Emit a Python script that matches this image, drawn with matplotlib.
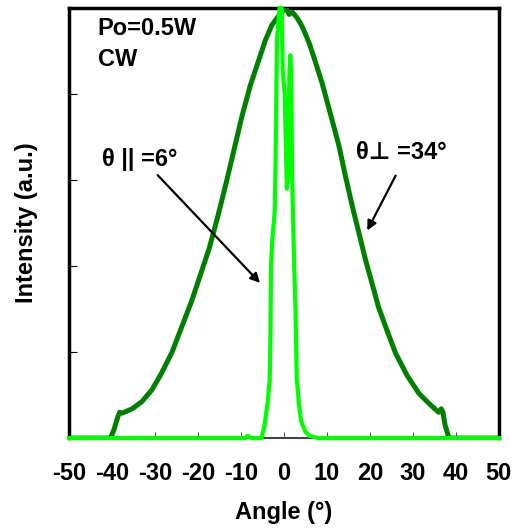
import matplotlib.pyplot as plt

# === DATA ===
perp_angle = [-50, -40.3, -39.5, -38.6, -38.2, -37.6, -35.3, -33.0, -30.7, -28.5, -26.0,
              -23.7, -21.4, -19.4, -17.4, -15.5, -13.5, -11.6, -9.7, -7.8, -5.8,
              -4.3, -2.8, -1.5, -0.5, 0.5, 1.2, 2.0, 3.0, 4.0, 5.0, 6.0, 7.0, 8.9, 10.8,
              12.8, 14.3, 15.9, 17.5, 19.0, 20.5, 22.0, 24.0, 26.0, 28.7, 31.4,
              33.8, 36.0, 36.6, 37.0, 37.5, 38.4, 50]
perp_int = [0.0, 0.0, 0.02, 0.05, 0.06, 0.058, 0.068, 0.085, 0.112, 0.15, 0.2,
            0.26, 0.32, 0.38, 0.44, 0.51, 0.59, 0.67, 0.75, 0.82, 0.88,
            0.925, 0.96, 0.978, 0.99, 1.0, 0.985, 0.99, 0.978, 0.962, 0.94, 0.915, 0.885, 0.825, 0.755,
            0.68, 0.61, 0.54, 0.475, 0.414, 0.36, 0.305, 0.25, 0.197, 0.145, 0.104,
            0.08, 0.06, 0.068, 0.06, 0.03, 0.0, 0.0]

par_angle = [-50, -9.0, -8.5, -7.5, -5.2, -4.5, -3.8, -3.3, -3.1, -3.0, -2.7, -2.1,
             -1.9, -1.6, -1.0, -0.5, -0.3, 0.2, 0.7, 0.9, 1.3, 1.5, 1.7, 1.9,
             2.4, 2.7, 3.0, 3.5, 4.0, 5.0, 6.0, 8.0, 50]
par_int = [0.0, 0.0, 0.005, 0.0, 0.0, 0.03, 0.08, 0.135, 0.25, 0.40, 0.46, 0.53,
           0.67, 0.926, 1.0, 1.0, 0.86, 0.80, 0.58, 0.60, 0.85, 0.89, 0.85, 0.62,
           0.40, 0.30, 0.14, 0.08, 0.04, 0.015, 0.005, 0.0, 0.0]

xticks = [-50, -40, -30, -20, -10, 0, 10, 20, 30, 40, 50]

# === STYLE ===
plt.rcParams['font.family'] = ['Liberation Sans', 'DejaVu Sans']
plt.rcParams['font.weight'] = 'bold'
FS = 17

fig = plt.figure(figsize=(5.18, 5.31), dpi=100)
ax = fig.add_axes([0.133, 0.175, 0.830, 0.810])

ax.plot(perp_angle, perp_int, color='#008000', lw=3.6, zorder=3)
ax.plot(par_angle, par_int, color='#00ff00', lw=3.0, zorder=4, clip_on=False)

ax.set_xlim(-50, 50)
ax.set_ylim(0, 1)
ax.set_xticks(xticks)
ax.set_xticklabels([str(t) for t in xticks], fontsize=FS, fontweight='bold')
ax.set_yticks([0.2, 0.4, 0.6, 0.8])
ax.set_yticklabels([])
ax.tick_params(axis='x', direction='in', length=4, width=0.8, color='#555555', pad=17)
ax.tick_params(axis='y', direction='in', length=6, width=0.8, color='black')

for side in ['left', 'right', 'top']:
    ax.spines[side].set_linewidth(2.5)
ax.spines['bottom'].set_linewidth(1.5)
ax.spines['bottom'].set_color('#444444')

ax.set_xlabel('Angle (°)', fontsize=FS, fontweight='bold', labelpad=12)
ax.set_ylabel('Intensity (a.u.)', fontsize=FS, fontweight='bold', labelpad=19)

# === ANNOTATIONS ===
ax.text(-43.3, 0.953, 'Po=0.5W', fontsize=FS, fontweight='bold', ha='left', va='center')
ax.text(-43.3, 0.881, 'CW', fontsize=FS, fontweight='bold', ha='left', va='center')
ax.text(-42.3, 0.647, 'θ || =6°', fontsize=FS, fontweight='bold', ha='left', va='center')
ax.text(16.7, 0.663, 'θ⊥ =34°', fontsize=FS, fontweight='bold', ha='left', va='center')
ax.annotate('', xy=(-5.1, 0.356), xytext=(-29.8, 0.616),
            arrowprops=dict(arrowstyle='-|>', color='black', lw=1.6, mutation_scale=14))
ax.annotate('', xy=(19.1, 0.477), xytext=(26.3, 0.616),
            arrowprops=dict(arrowstyle='-|>', color='black', lw=1.6, mutation_scale=14))

fig.savefig('out.png', dpi=100)
